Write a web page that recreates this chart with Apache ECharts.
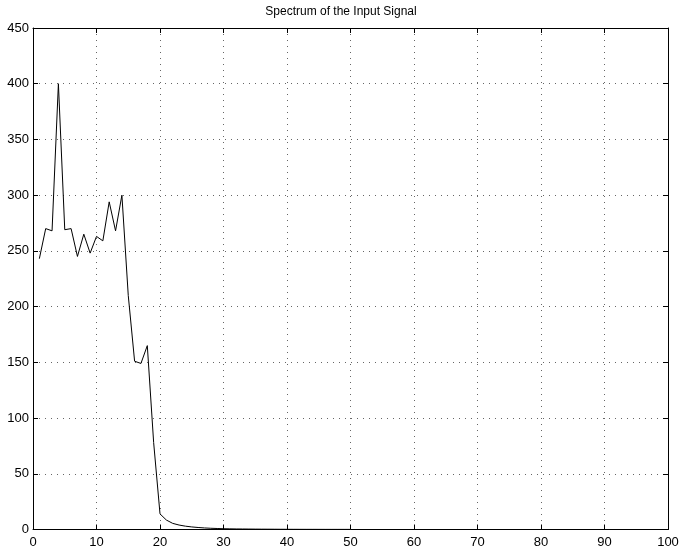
<!DOCTYPE html>
<html><head><meta charset="utf-8">
<script src="https://cdn.jsdelivr.net/npm/echarts@6/dist/echarts.min.js"></script>
<style>html,body{margin:0;padding:0;background:#fff}#c{width:682px;height:555px}</style>
</head><body><div id="c"></div>
<script>
const title = 'Spectrum of the Input Signal';
const freq = [1,2,3,4,5,6,7,8,9,10,11,12,13,14,15,16,17,18,19,20,21,22,23,24,25,26,27,28,29,30,31,32,33,34,35,36,37,38,39,40,41,42,43,44,45,46,47,48,49,50];
const magnitude = [243,270,268,400,269,270,245,265,248,263,259,294,268,300,210,151,149,165,78,14,8.5,5.5,4,3,2.3,1.8,1.4,1.1,0.9,0.7,0.6,0.5,0.45,0.4,0.35,0.3,0.27,0.24,0.2,0.18,0.16,0.15,0.14,0.13,0.12,0.11,0.1,0.1,0.1,0.1];
const xTicks = [0,10,20,30,40,50,60,70,80,90,100];
const yTicks = [0,50,100,150,200,250,300,350,400,450];

const font = 'Liberation Sans, Arial, Helvetica, sans-serif';
const chart = echarts.init(document.getElementById('c'));
const lineStyle = {color:'#000', width:1};
const split = {show:true, lineStyle:{color:'#666', type:[1,5], width:1}};
chart.setOption({
  animation:false,
  title:{text:title, left:'center', top:1, textStyle:{fontFamily:font, fontSize:12, fontWeight:'normal', color:'#000'}},
  grid:{left:33, right:14, top:28, bottom:25.5},
  xAxis:[
    {type:'value', min:xTicks[0], max:xTicks[xTicks.length-1], interval:10,
     axisLine:{show:true, onZero:false, lineStyle}, axisTick:{show:true, inside:true, length:5, lineStyle},
     axisLabel:{fontFamily:font, fontSize:13, color:'#000', margin:6}, splitLine:split},
    {type:'value', position:'top', min:0, max:100, interval:10,
     axisLine:{show:true, onZero:false, lineStyle}, axisTick:{show:true, inside:true, length:5, lineStyle},
     axisLabel:{show:false}, splitLine:{show:false}}
  ],
  yAxis:[
    {type:'value', min:yTicks[0], max:yTicks[yTicks.length-1], interval:50,
     axisLine:{show:true, onZero:false, lineStyle}, axisTick:{show:true, inside:true, length:5, lineStyle},
     axisLabel:{fontFamily:font, fontSize:13, color:'#000', margin:4}, splitLine:split},
    {type:'value', position:'right', min:0, max:450, interval:50,
     axisLine:{show:true, onZero:false, lineStyle}, axisTick:{show:true, inside:true, length:5, lineStyle},
     axisLabel:{show:false}, splitLine:{show:false}}
  ],
  series:[{type:'line', data:freq.map((f,i)=>[f, magnitude[i]]), showSymbol:false,
    lineStyle:{color:'#000', width:1}, xAxisIndex:0, yAxisIndex:0}]
});
</script></body></html>
